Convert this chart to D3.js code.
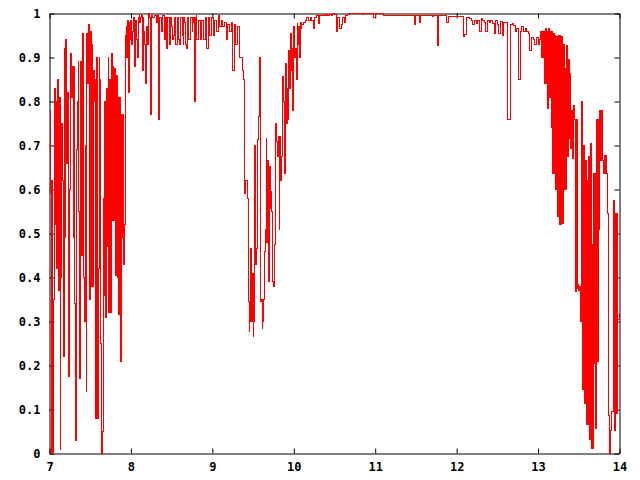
<!DOCTYPE html>
<html>
<head>
<meta charset="utf-8">
<script src="https://cdn.jsdelivr.net/npm/d3@7"></script>
<style>
html,body{margin:0;padding:0;background:#fff;}
svg{display:block;}
.tick text{font-family:"DejaVu Sans Mono","Liberation Mono",monospace;font-weight:bold;font-size:12px;fill:#000;}
</style>
</head>
<body>
<svg id="chart" width="640" height="480"></svg>
<script>
// Axis ticks
const xTicks = [7, 8, 9, 10, 11, 12, 13, 14];
const xTickLabels = ["7", "8", "9", "10", "11", "12", "13", "14"];
const yTicks = [0, 0.1, 0.2, 0.3, 0.4, 0.5, 0.6, 0.7, 0.8, 0.9, 1];
const yTickLabels = ["0", "0.1", "0.2", "0.3", "0.4", "0.5", "0.6", "0.7", "0.8", "0.9", "1"];

// Wavelength segments (start, spacing) and transmission values
const segmentStarts = [7.00, 8.00, 9.36, 10.10, 13.00];
const segmentSpacing = [0.01, 0.01, 0.01, 0.02, 0.01];

const transmission1 = [ // 7.00 - 7.99
  0.78, 0.59, 0.00, 0.62, 0.00, 0.35, 0.83, 0.52, 0.80, 0.42,
  0.85, 0.37, 0.81, 0.01, 0.40, 0.75, 0.62, 0.22, 0.92, 0.49,
  0.94, 0.66, 0.82, 0.175, 0.35, 0.60, 0.91, 0.81, 0.88, 0.49,
  0.88, 0.34, 0.03, 0.69, 0.80, 0.89, 0.55, 0.17, 0.89, 0.45,
  0.90, 0.955, 0.40, 0.30, 0.70, 0.14, 0.955, 0.84, 0.975, 0.35,
  0.96, 0.38, 0.93, 0.38, 0.87, 0.80, 0.85, 0.08, 0.90, 0.08,
  0.42, 0.90, 0.85, 0.25, 0.00, 0.05, 0.58, 0.36, 0.80, 0.31,
  0.83, 0.47, 0.90, 0.32, 0.85, 0.32, 0.91, 0.53, 0.88, 0.53,
  0.875, 0.405, 0.86, 0.40, 0.81, 0.315, 0.81, 0.21, 0.77, 0.49,
  0.77, 0.43, 0.52, 0.95, 0.97, 0.90, 0.985, 0.82, 0.98, 0.94
];
const transmission2 = [ // 8.00 - 9.35
  0.985, 0.93, 0.96, 0.99, 0.88, 0.96, 0.985, 0.94, 0.90, 0.99,
  0.997, 0.98, 0.99, 0.995, 0.87, 0.99, 0.96, 0.93, 0.84, 0.97,
  0.93, 0.995, 1.0, 0.99, 0.77, 0.995, 0.995, 0.99, 0.99, 0.995,
  0.995, 0.99, 0.98, 0.995, 0.76, 0.99, 0.99, 0.96, 0.96, 0.995,
  0.995, 0.94, 0.94, 0.99, 0.92, 0.99, 0.99, 0.93, 0.95, 0.99,
  0.97, 0.94, 0.95, 0.99, 0.99, 0.93, 0.93, 0.99, 0.98, 0.94,
  0.93, 0.99, 0.99, 0.95, 0.93, 0.99, 0.98, 0.93, 0.92, 0.99,
  0.99, 0.94, 0.94, 0.99, 0.99, 0.96, 0.98, 0.99, 0.80, 0.99,
  0.995, 0.94, 0.94, 0.985, 0.985, 0.94, 0.94, 0.985, 0.985, 0.94,
  0.94, 0.99, 0.99, 0.92, 0.92, 0.99, 0.99, 0.95, 0.95, 0.99,
  0.99, 0.95, 0.95, 0.985, 0.985, 0.96, 0.96, 0.995, 0.995, 0.97,
  0.97, 0.985, 0.985, 0.97, 0.97, 0.98, 0.98, 0.94, 0.94, 0.975,
  0.975, 0.96, 0.96, 0.98, 0.98, 0.87, 0.87, 0.975, 0.975, 0.93,
  0.93, 0.97, 0.97, 0.90, 0.90, 0.90
];
const transmission3 = [ // 9.36 - 10.09
  0.90, 0.87, 0.85, 0.70, 0.59, 0.62, 0.62, 0.58, 0.345, 0.277,
  0.30, 0.466, 0.30, 0.41, 0.265, 0.30, 0.70, 0.43, 0.465, 0.47,
  0.713, 0.765, 0.90, 0.345, 0.35, 0.284, 0.30, 0.35, 0.46, 0.51,
  0.716, 0.48, 0.667, 0.39, 0.652, 0.557, 0.595, 0.55, 0.39, 0.38,
  0.474, 0.75, 0.75, 0.71, 0.675, 0.72, 0.51, 0.72, 0.62, 0.675,
  0.856, 0.80, 0.80, 0.637, 0.887, 0.75, 0.83, 0.758, 0.917, 0.83,
  0.955, 0.87, 0.92, 0.78, 0.97, 0.90, 0.92, 0.85, 0.978, 0.93,
  0.97, 0.90, 0.98, 0.965
];
const transmission4 = [ // 10.10 - 12.98
  0.975, 0.98, 0.985, 0.99, 0.985, 0.99, 0.985, 0.966, 0.99, 0.995,
  0.978, 0.995, 0.996, 0.998, 0.996, 0.998, 0.996, 0.998, 0.996, 1.0,
  0.998, 0.96, 0.99, 0.965, 0.975, 0.99, 0.98, 0.995, 0.998, 1.0,
  0.999, 1.0, 0.999, 1.0, 1.0, 1.0, 1.0, 0.998, 1.0, 1.0,
  1.0, 1.0, 1.0, 1.0, 0.99, 1.0, 1.0, 1.0, 1.0, 1.0,
  0.996, 0.996, 0.996, 0.996, 0.996, 0.996, 0.996, 0.996, 0.996, 0.996,
  0.996, 0.996, 0.996, 0.996, 0.996, 0.996, 0.996, 0.996, 0.996, 0.975,
  0.996, 0.996, 0.98, 0.996, 0.996, 0.996, 0.996, 0.996, 0.996, 0.995,
  0.993, 0.995, 0.996, 0.927, 0.995, 0.995, 0.995, 0.995, 0.995, 0.979,
  0.993, 0.993, 0.993, 0.993, 0.993, 0.993, 0.993, 0.993, 0.993, 0.947,
  0.952, 0.99, 0.99, 0.988, 0.985, 0.975, 0.985, 0.978, 0.985, 0.959,
  0.988, 0.985, 0.98, 0.96, 0.985, 0.98, 0.985, 0.978, 0.955, 0.985,
  0.975, 0.955, 0.982, 0.95, 0.98, 0.98, 0.758, 0.758, 0.975, 0.978,
  0.972, 0.96, 0.965, 0.85, 0.96, 0.97, 0.96, 0.965, 0.96, 0.955,
  0.917, 0.945, 0.94, 0.93, 0.945
];
const transmission5 = [ // 13.00 - 14.00
  0.935, 0.93, 0.94, 0.96, 0.90, 0.96, 0.90, 0.96, 0.84, 0.965,
  0.84, 0.96, 0.785, 0.965, 0.81, 0.96, 0.74, 0.96, 0.637, 0.955,
  0.637, 0.95, 0.60, 0.948, 0.538, 0.95, 0.52, 0.95, 0.52, 0.947,
  0.523, 0.93, 0.60, 0.875, 0.60, 0.928, 0.675, 0.895, 0.716, 0.864,
  0.694, 0.78, 0.67, 0.72, 0.792, 0.76, 0.368, 0.76, 0.375, 0.383,
  0.37, 0.38, 0.30, 0.80, 0.80, 0.145, 0.70, 0.114, 0.667, 0.065,
  0.62, 0.065, 0.675, 0.031, 0.705, 0.012, 0.474, 0.012, 0.637, 0.205,
  0.637, 0.057, 0.758, 0.21, 0.758, 0.508, 0.78, 0.667, 0.78, 0.667,
  0.637, 0.678, 0.637, 0.678, 0.637, 0.546, 0.546, 0.087, 0.0, 0.053,
  0.095, 0.095, 0.095, 0.576, 0.053, 0.546, 0.09, 0.546, 0.304, 0.304,
  0.32
];
const segments = [transmission1, transmission2, transmission3, transmission4, transmission5];

// Build the point table
const points = [];
segments.forEach((vals, s) => {
  vals.forEach((v, i) => {
    points.push({ w: +(segmentStarts[s] + i * segmentSpacing[s]).toFixed(3), t: v });
  });
});

const svg = d3.select("#chart");
const x = d3.scaleLinear().domain([7, 14]).range([49.5, 619.5]);
const y = d3.scaleLinear().domain([0, 1]).range([453.5, 13.5]);

// Frame + ticks
const fmtX = d => xTickLabels[xTicks.indexOf(d)];
const fmtY = d => yTickLabels[yTicks.indexOf(d)];

svg.append("g").attr("transform", "translate(0,453.5)")
  .call(d3.axisBottom(x).tickValues(xTicks).tickFormat(fmtX).tickSizeInner(-5).tickSizeOuter(0).tickPadding(9));
svg.append("g").attr("transform", "translate(0,13.5)")
  .call(d3.axisTop(x).tickValues(xTicks).tickFormat("").tickSizeInner(-5).tickSizeOuter(0));
svg.append("g").attr("transform", "translate(49.5,0)")
  .call(d3.axisLeft(y).tickValues(yTicks).tickFormat(fmtY).tickSizeInner(-5).tickSizeOuter(0).tickPadding(9));
svg.append("g").attr("transform", "translate(619.5,0)")
  .call(d3.axisRight(y).tickValues(yTicks).tickFormat("").tickSizeInner(-5).tickSizeOuter(0));

svg.selectAll(".domain").attr("stroke", "#000").attr("stroke-width", 1);
svg.selectAll(".tick line").attr("stroke", "#000").attr("stroke-width", 1);

// Data line
const line = d3.line()
  .x(d => x(d.w))
  .y(d => y(d.t))
  .curve(d3.curveStepAfter);

svg.append("path")
  .datum(points)
  .attr("d", line)
  .attr("fill", "none")
  .attr("stroke", "#ff0000")
  .attr("stroke-width", 1)
  .attr("shape-rendering", "crispEdges");
</script>
</body>
</html>
